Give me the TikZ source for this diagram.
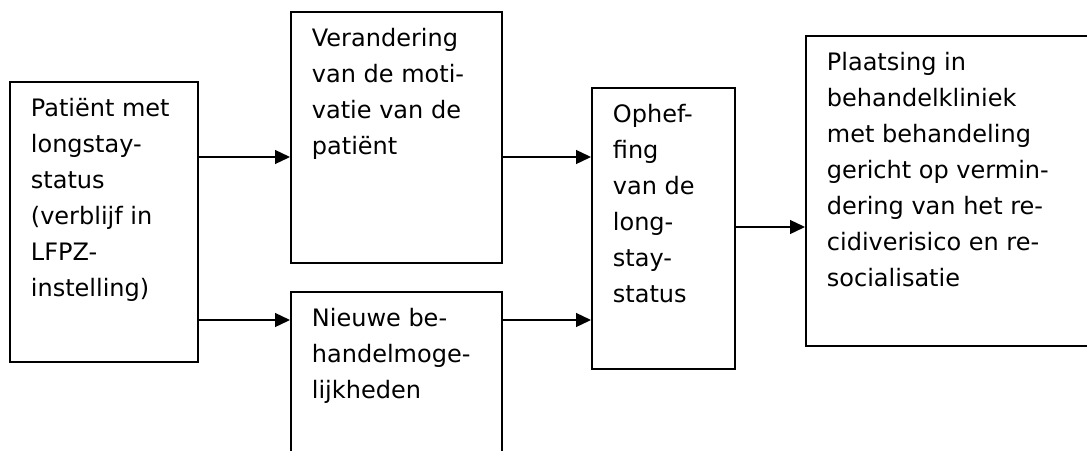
\documentclass[tikz,border=0pt]{standalone}
\usepackage{fontspec}
\setmainfont{DejaVu Sans}
\usetikzlibrary{arrows.meta}

\tikzset{
  stap/.style={draw, line width=1.8pt, rectangle, anchor=north west,
    inner xsep=21pt, inner ysep=0pt, text height=35pt,
    font=\fontsize{24}{36}\selectfont},
  pijl/.style={line width=1.3pt, -{Triangle[length=15pt,width=14pt]}}
}
% tekst bovenaan links in een blok
\newcommand{\regels}[2]{\parbox[t]{#1pt}{\raggedright #2}}

\begin{document}
\begin{tikzpicture}[x=1pt,y=1pt,yscale=-1]
\useasboundingbox (0,0) rectangle (1087,450);
\clip (0,0) rectangle (1087,450);

% blokken
\node[stap, text depth=245pt] (patient) at (9,81)
  {\regels{146}{Patiënt met\\longstay-\\status\\(verblijf in\\LFPZ-\\instelling)}};
\node[stap, text depth=216pt] (motivatie) at (290,11)
  {\regels{169}{Verandering\\van de moti-\\vatie van de\\patiënt}};
\node[stap, text depth=185pt] (nieuw) at (290,291)
  {\regels{169}{Nieuwe be-\\handelmoge-\\lijkheden}};
\node[stap, text depth=246pt] (opheffing) at (591,87)
  {\regels{101}{Ophef-\\fing\\van de\\long-\\stay-\\status}};
\node[stap, text depth=275pt] (plaatsing) at (805,35)
  {\regels{270}{Plaatsing in\\behandelkliniek\\met behandeling\\gericht op vermin-\\dering van het re-\\cidiverisico en re-\\socialisatie}};

% hoogtes van de pijlen
\coordinate (hoog) at (0,157);
\coordinate (laag) at (0,320);
\coordinate (midden) at (0,227);

% pijlen
\draw[pijl] (patient.east |- hoog) -- (motivatie.west |- hoog);
\draw[pijl] (patient.east |- laag) -- (nieuw.west |- laag);
\draw[pijl] (motivatie.east |- hoog) -- (opheffing.west |- hoog);
\draw[pijl] (nieuw.east |- laag) -- (opheffing.west |- laag);
\draw[pijl] (opheffing.east |- midden) -- (plaatsing.west |- midden);

\end{tikzpicture}
\end{document}
